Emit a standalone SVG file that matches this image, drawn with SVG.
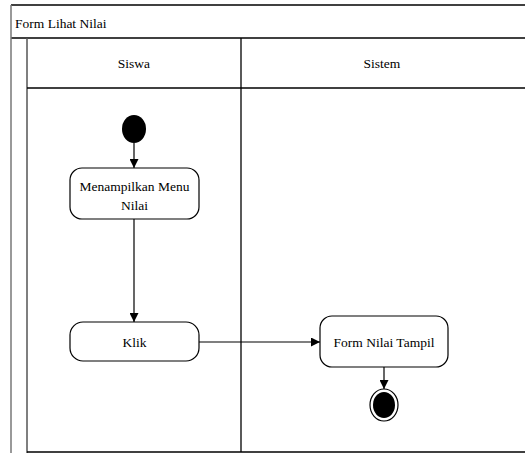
<svg xmlns="http://www.w3.org/2000/svg" width="525" height="453" viewBox="0 0 525 453">
<defs>
<style>
text{font-size:13.5px;fill:#000}
.c{text-anchor:middle}
.act{fill:#fff;stroke:#000;stroke-width:1.2}
.ln{stroke:#000;stroke-width:1.2;fill:none}
.fr{stroke:#000;stroke-width:1.3;fill:none}
</style>
<marker id="ah" viewBox="0 0 10 10" refX="10" refY="5" markerWidth="9" markerHeight="9" markerUnits="userSpaceOnUse" orient="auto">
<path d="M0,0 L10,5 L0,10 Z" fill="#000"/>
</marker>
</defs>
<rect width="525" height="453" fill="#fff"/>
<g font-family="'Liberation Serif', 'DejaVu Serif', serif">
<g id="pool">
<line x1="11" y1="5" x2="525" y2="5" class="fr"/>
<line x1="11" y1="38" x2="525" y2="38" class="fr"/>
<line x1="11" y1="5" x2="11" y2="453" stroke="#777" stroke-width="1.5"/>
<line x1="27" y1="38" x2="27" y2="453" stroke="#555" stroke-width="1.5"/>
<line x1="27" y1="88" x2="525" y2="88" class="fr"/>
<line x1="241" y1="38" x2="241" y2="452" class="fr"/>
<line x1="27" y1="452" x2="525" y2="452" class="fr"/>
<text x="15" y="28">Form Lihat Nilai</text>
<text x="134" y="68" class="c">Siswa</text>
<text x="382" y="68" class="c">Sistem</text>
</g>
<g id="connectors">
<line x1="134" y1="143" x2="134" y2="168" class="ln" marker-end="url(#ah)"/>
<line x1="134" y1="219" x2="134" y2="322" class="ln" marker-end="url(#ah)"/>
<line x1="199" y1="342" x2="320" y2="342" class="ln" marker-end="url(#ah)"/>
<line x1="384" y1="367" x2="384" y2="389" class="ln" marker-end="url(#ah)"/>
</g>
<g id="start">
<ellipse cx="134" cy="129" rx="12" ry="14" fill="#000"/>
</g>
<g id="menu">
<rect x="70" y="168" width="129" height="51" rx="12" class="act"/>
<text x="134.5" y="191" class="c">Menampilkan Menu</text>
<text x="134.5" y="210" class="c">Nilai</text>
</g>
<g id="klik">
<rect x="70" y="322" width="129" height="39" rx="13" class="act"/>
<text x="134.5" y="347" class="c">Klik</text>
</g>
<g id="tampil">
<rect x="320" y="316" width="128" height="51" rx="12" class="act"/>
<text x="384" y="347" class="c">Form Nilai Tampil</text>
</g>
<g id="end">
<ellipse cx="384" cy="405" rx="14" ry="16" fill="#fff" stroke="#000" stroke-width="1.2"/>
<ellipse cx="384" cy="405" rx="11" ry="13" fill="#000"/>
</g>
</g>
</svg>
